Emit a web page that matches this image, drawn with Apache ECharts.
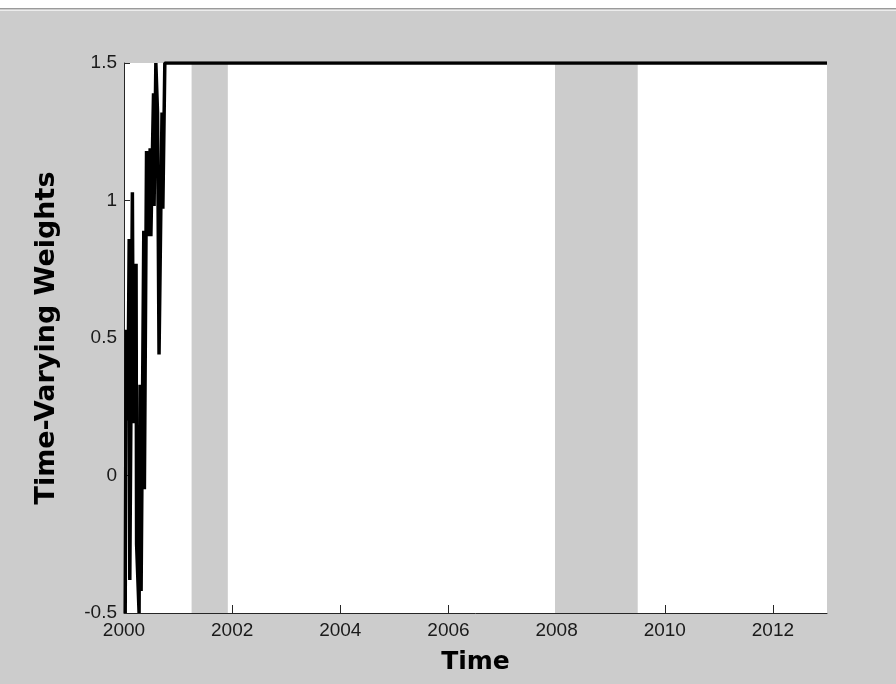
<!DOCTYPE html>
<html>
<head>
<meta charset="utf-8">
<script src="https://cdn.jsdelivr.net/npm/echarts@6/dist/echarts.min.js"></script>
<style>html,body{margin:0;padding:0;background:#cccccc;}#c{width:896px;height:684px;}</style>
</head>
<body>
<div id="c"></div>
<script>
// time (years) and weights
const dates = [2000.022, 2000.041, 2000.070, 2000.096, 2000.107, 2000.155, 2000.174, 2000.223, 2000.233,
  2000.279, 2000.297, 2000.316, 2000.366, 2000.377, 2000.417, 2000.436, 2000.484, 2000.497,
  2000.546, 2000.556, 2000.589, 2000.620, 2000.648, 2000.703, 2000.718, 2000.755, 2013.0];
const weights = [-0.50, 0.53, 0.20, 0.86, -0.38, 1.03, 0.19, 0.77, -0.25,
  -0.50, 0.33, -0.42, 0.89, -0.05, 1.18, 0.87, 1.19, 0.87,
  1.39, 0.98, 1.50, 1.32, 0.44, 1.32, 0.97, 1.50, 1.50];
const recessions = [[2001.25, 2001.92], [2007.97, 2009.5]];
const xTicks = [2000, 2002, 2004, 2006, 2008, 2010, 2012];
const yTicks = [-0.5, 0, 0.5, 1, 1.5];
const xName = 'Time';
const yName = 'Time-Varying Weights';

const chart = echarts.init(document.getElementById('c'), null, {renderer: 'canvas'});
const lineData = dates.map((d, i) => [d, weights[i]]);
const axisColor = '#262626';
chart.setOption({
  backgroundColor: '#cccccc',
  animation: false,
  graphic: [
    {type: 'rect', shape: {x: 0, y: 0, width: 896, height: 8}, style: {fill: '#ffffff'}},
    {type: 'rect', shape: {x: 0, y: 8, width: 896, height: 1}, style: {fill: '#9a9a9a'}},
    {type: 'rect', shape: {x: 0, y: 10, width: 896, height: 1}, style: {fill: '#ececec'}}
  ],
  grid: {left: 124, right: 69, top: 63, bottom: 71, show: true, backgroundColor: '#ffffff', borderWidth: 0},
  xAxis: {
    type: 'value', min: 2000, max: 2013,
    name: xName, nameLocation: 'middle', nameGap: 37,
    nameTextStyle: {fontFamily: 'DejaVu Sans', fontWeight: 'bold', fontSize: 25, color: '#000'},
    axisLine: {show: true, onZero: false, lineStyle: {color: axisColor, width: 1}},
    axisTick: {show: true, inside: true, length: 8, customValues: xTicks, lineStyle: {color: axisColor}},
    axisLabel: {customValues: xTicks, margin: 8, fontFamily: 'Liberation Sans', fontSize: 19, color: '#1a1a1a',
      formatter: v => String(v)},
    splitLine: {show: false}
  },
  yAxis: {
    type: 'value', min: -0.5, max: 1.5, interval: 0.5,
    name: yName, nameLocation: 'middle', nameGap: 64, nameRotate: 90,
    nameTextStyle: {fontFamily: 'DejaVu Sans', fontWeight: 'bold', fontSize: 27, color: '#000'},
    axisLine: {show: true, onZero: false, lineStyle: {color: axisColor, width: 1}},
    axisTick: {show: true, inside: true, length: 6, lineStyle: {color: axisColor}},
    axisLabel: {margin: 7, fontFamily: 'Liberation Sans', fontSize: 19, color: '#1a1a1a',
      formatter: v => String(v)},
    splitLine: {show: false}
  },
  series: [
    {
      type: 'line', data: [], z: 1, silent: true,
      markArea: {
        silent: true,
        itemStyle: {color: '#cccccc', opacity: 1},
        data: recessions.map(r => [{xAxis: r[0]}, {xAxis: r[1]}])
      }
    },
    {
      type: 'line', data: lineData, z: 3, symbol: 'none', silent: true,
      lineStyle: {color: '#000000', width: 3.5}
    }
  ]
});
</script>
</body>
</html>
